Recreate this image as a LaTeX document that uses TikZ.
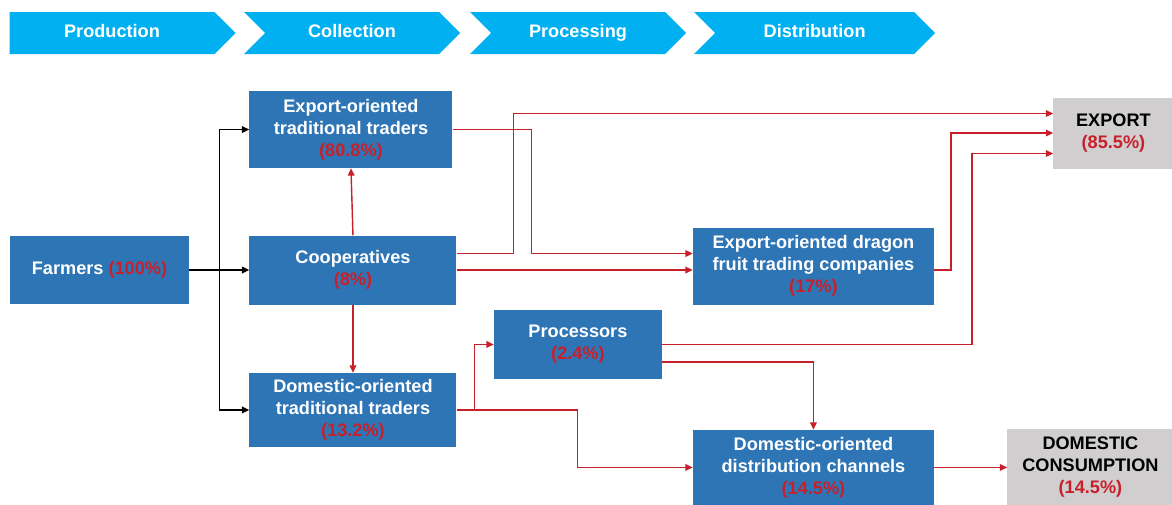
\documentclass[tikz,border=0pt]{standalone}
\usepackage{fontspec}
\setmainfont{Liberation Sans}
\usepackage{xcolor}
\usepackage{tikz}
\usetikzlibrary{positioning,arrows.meta,shapes.symbols,calc}

\definecolor{stageblue}{HTML}{00B0F0}
\definecolor{boxblue}{HTML}{2E75B6}
\definecolor{endgrey}{HTML}{D0CECE}
\definecolor{pctred}{HTML}{C8202B}
\newcommand{\pct}[1]{\textcolor{pctred}{(#1\%)}}

\begin{document}
\begin{tikzpicture}[
    stage/.style={signal, signal to=east, signal pointer angle=90, fill=stageblue, text=white,
                  minimum height=1.26cm, inner sep=0pt, text height=0.9em, text depth=0.18em,
                  font=\bfseries\fontsize{15.5}{18.8}\selectfont},
    actor/.style={fill=boxblue, text=white, align=center, inner sep=2pt,
                  font=\bfseries\fontsize{15.5}{18.8}\selectfont},
    sink/.style={actor, fill=endgrey, text=black},
    flow/.style={-{Triangle[length=2.2mm,width=2mm]}, line width=1.2pt, black},
    rflow/.style={flow, pctred}
]
\useasboundingbox (0,0) rectangle (35.16,-15.12);

% value chain stages
\node[stage, minimum width=6.78cm] (production) at (3.36,-0.99) {Production};
\node[stage, signal from=west, minimum width=6.48cm] (collection) at (10.56,-0.99) {Collection};
\node[stage, signal from=west, minimum width=6.48cm] (processing) at (17.34,-0.99) {Processing};
\node[stage, signal from=west, minimum width=7.23cm] (distribution) at (24.44,-0.99) {Distribution};

% actors
\node[actor, minimum width=5.37cm, minimum height=2.04cm] (farmers) at (2.985,-8.1) {Farmers \pct{100}};
\node[actor, minimum width=6.21cm, minimum height=2.07cm, right=1.8cm of farmers] (coop) {Cooperatives\\\pct{8}};
\node[actor, minimum width=6.09cm, minimum height=2.31cm, above=2.01cm of coop.north west, anchor=south west] (exptrad)
    {Export-oriented\\traditional traders\\\pct{80.8}};
\node[actor, minimum width=6.21cm, minimum height=2.22cm, below=2.04cm of coop] (domtrad)
    {Domestic-oriented\\traditional traders\\\pct{13.2}};
\node[actor, minimum width=7.23cm, minimum height=2.31cm, right=7.08cm of coop, yshift=0.12cm] (expco)
    {Export-oriented dragon\\fruit trading companies\\\pct{17}};
\node[actor, minimum width=5.04cm, minimum height=2.07cm, right=1.11cm of domtrad, yshift=1.965cm] (proc)
    {Processors\\\pct{2.4}};
\node[actor, minimum width=7.23cm, minimum height=2.25cm, below=3.75cm of expco] (domchan)
    {Domestic-oriented\\distribution channels\\\pct{14.5}};
\node[sink, minimum width=3.6cm, minimum height=2.13cm, right=3.57cm of expco, yshift=3.99cm] (export)
    {EXPORT\\\pct{85.5}};
\node[sink, minimum width=4.98cm, minimum height=2.28cm, right=2.19cm of domchan] (domcons)
    {DOMESTIC\\CONSUMPTION\\\pct{14.5}};

% farmers' outlets
\coordinate (split) at ($(farmers.east)!0.5!(coop.west)$);
\draw[flow] (farmers.east) -- (coop.west);
\draw[flow] (split) |- (exptrad.west);
\draw[flow] (split) |- (domtrad.west);

% product flows
\draw[rflow] (coop.north) -- (exptrad.south);
\draw[rflow] (coop.south) -- (domtrad.north);
\draw[rflow] (exptrad.east) -- ++(2.37,0) |- ([yshift=3.75mm]expco.west);
\draw[rflow] ([yshift=5mm]coop.east) -- ++(1.71,0) |- ([yshift=5.85mm]export.west);
\draw[rflow] (coop.east) -- (coop.east -| expco.west);
\draw[rflow] (expco.east |- coop.east) -- ++(0.51,0) |- (export.west);
\draw[rflow] (proc.east) -- ++(9.3,0) |- ([yshift=-6.15mm]export.west);
\draw[rflow] ([yshift=-5.25mm]proc.east) -| (domchan.north);
\draw[rflow] (domtrad.east) -- ++(0.54,0) |- (proc.west);
\draw[rflow] (domtrad.east) -- ++(3.63,0) |- (domchan.west);
\draw[rflow] (domchan.east) -- (domcons.west);
\end{tikzpicture}
\end{document}
